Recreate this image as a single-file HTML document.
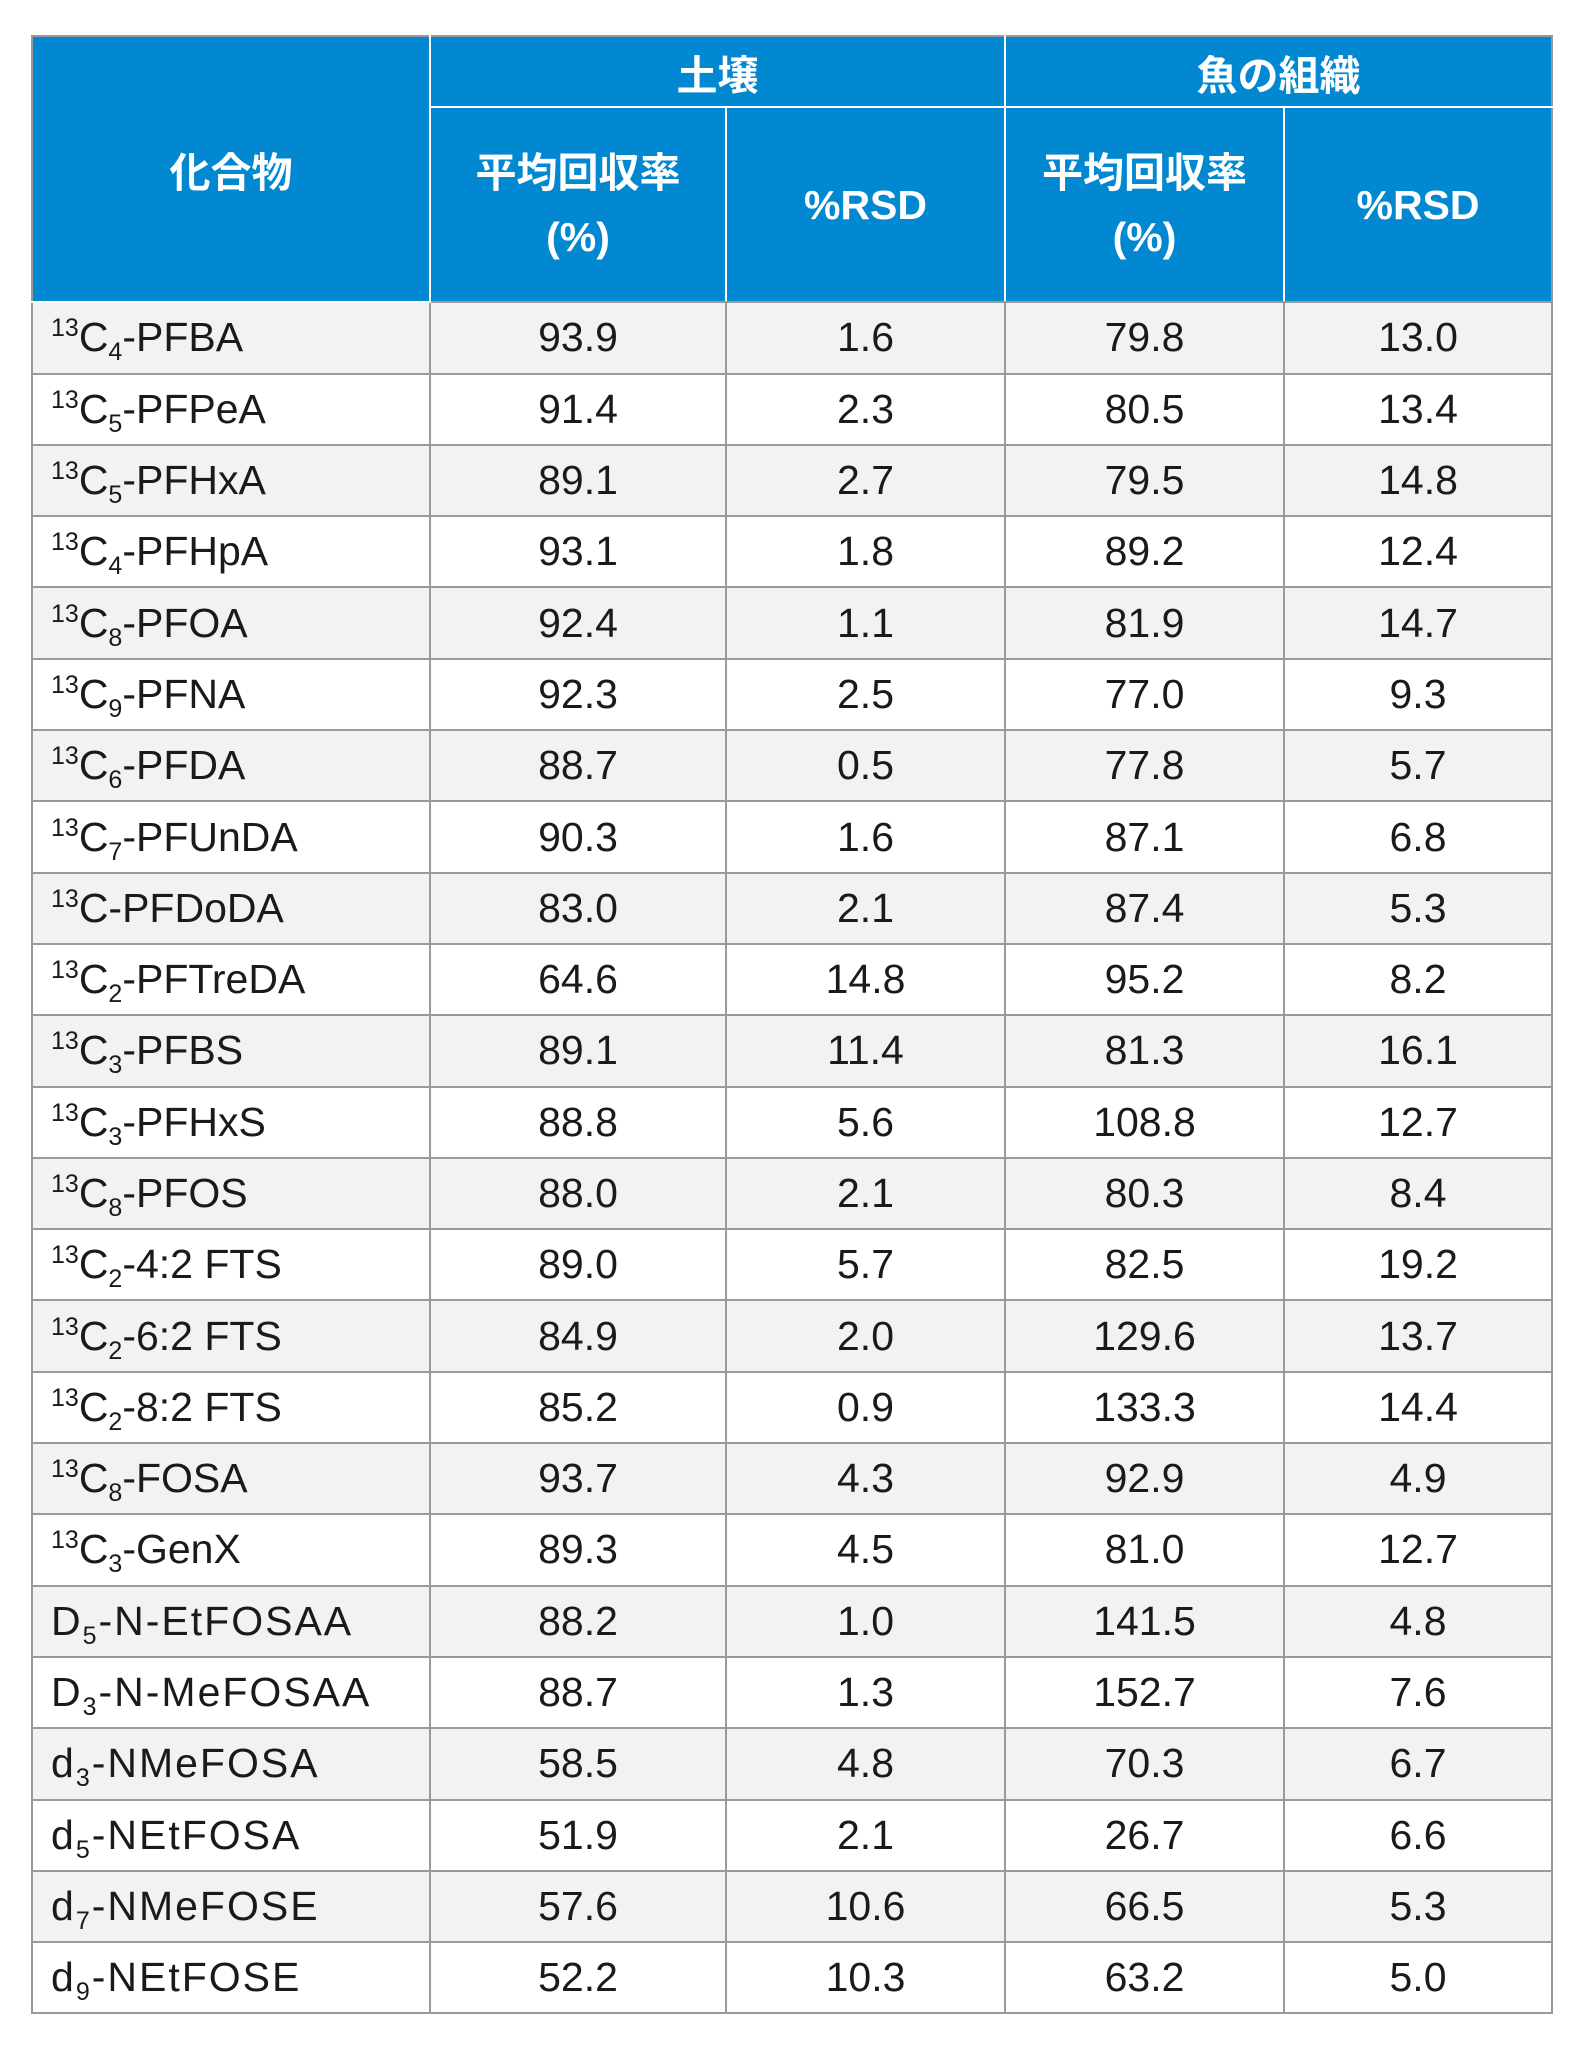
<!DOCTYPE html>
<html><head><meta charset="utf-8">
<style>
html,body{margin:0;padding:0;background:#fff;width:1580px;height:2048px;overflow:hidden}
table{position:absolute;left:31px;top:35px;border-collapse:collapse;table-layout:fixed;width:1520px;font-family:"Liberation Sans","Noto Sans CJK JP",sans-serif}
td,th{border:2px solid #9a9a9a;padding:0;text-align:center;color:#1a1a1a;font-size:41px;height:69.3px;white-space:nowrap;overflow:hidden}
th{background:#0288d1;color:#fff;font-weight:bold;border-color:#fff;font-size:41px}
thead tr:first-child th{border-top-color:#9a9a9a}
thead th.c0{border-left-color:#9a9a9a}
thead th.last{border-right-color:#9a9a9a}
thead tr:last-child th{border-bottom-color:#9a9a9a;height:193px;line-height:64px}
td.n{text-align:left;padding-left:18px}
tbody tr:nth-child(odd) td{background:#f1f2f4}
sup,sub{font-size:25px;line-height:0;position:relative;vertical-align:baseline}
sup{top:-15px}
sub{top:9px}
.ls{letter-spacing:2px}
</style></head><body>
<table>
<colgroup><col style="width:398px"><col style="width:296px"><col style="width:279px"><col style="width:279px"><col style="width:268px"></colgroup>
<thead>
<tr>
<th class="c0" rowspan="2">化合物</th>
<th colspan="2">土壌</th>
<th colspan="2" class="last">魚の組織</th>
</tr>
<tr>
<th>平均回収率<br>(%)</th>
<th>%RSD</th>
<th>平均回収率<br>(%)</th>
<th class="last">%RSD</th>
</tr>
</thead>
<tbody>
<tr><td class="n"><sup>13</sup>C<sub>4</sub>-PFBA</td><td>93.9</td><td>1.6</td><td>79.8</td><td>13.0</td></tr>
<tr><td class="n"><sup>13</sup>C<sub>5</sub>-PFPeA</td><td>91.4</td><td>2.3</td><td>80.5</td><td>13.4</td></tr>
<tr><td class="n"><sup>13</sup>C<sub>5</sub>-PFHxA</td><td>89.1</td><td>2.7</td><td>79.5</td><td>14.8</td></tr>
<tr><td class="n"><sup>13</sup>C<sub>4</sub>-PFHpA</td><td>93.1</td><td>1.8</td><td>89.2</td><td>12.4</td></tr>
<tr><td class="n"><sup>13</sup>C<sub>8</sub>-PFOA</td><td>92.4</td><td>1.1</td><td>81.9</td><td>14.7</td></tr>
<tr><td class="n"><sup>13</sup>C<sub>9</sub>-PFNA</td><td>92.3</td><td>2.5</td><td>77.0</td><td>9.3</td></tr>
<tr><td class="n"><sup>13</sup>C<sub>6</sub>-PFDA</td><td>88.7</td><td>0.5</td><td>77.8</td><td>5.7</td></tr>
<tr><td class="n"><sup>13</sup>C<sub>7</sub>-PFUnDA</td><td>90.3</td><td>1.6</td><td>87.1</td><td>6.8</td></tr>
<tr><td class="n"><sup>13</sup>C-PFDoDA</td><td>83.0</td><td>2.1</td><td>87.4</td><td>5.3</td></tr>
<tr><td class="n"><sup>13</sup>C<sub>2</sub>-PFTreDA</td><td>64.6</td><td>14.8</td><td>95.2</td><td>8.2</td></tr>
<tr><td class="n"><sup>13</sup>C<sub>3</sub>-PFBS</td><td>89.1</td><td>11.4</td><td>81.3</td><td>16.1</td></tr>
<tr><td class="n"><sup>13</sup>C<sub>3</sub>-PFHxS</td><td>88.8</td><td>5.6</td><td>108.8</td><td>12.7</td></tr>
<tr><td class="n"><sup>13</sup>C<sub>8</sub>-PFOS</td><td>88.0</td><td>2.1</td><td>80.3</td><td>8.4</td></tr>
<tr><td class="n"><sup>13</sup>C<sub>2</sub>-4:2 FTS</td><td>89.0</td><td>5.7</td><td>82.5</td><td>19.2</td></tr>
<tr><td class="n"><sup>13</sup>C<sub>2</sub>-6:2 FTS</td><td>84.9</td><td>2.0</td><td>129.6</td><td>13.7</td></tr>
<tr><td class="n"><sup>13</sup>C<sub>2</sub>-8:2 FTS</td><td>85.2</td><td>0.9</td><td>133.3</td><td>14.4</td></tr>
<tr><td class="n"><sup>13</sup>C<sub>8</sub>-FOSA</td><td>93.7</td><td>4.3</td><td>92.9</td><td>4.9</td></tr>
<tr><td class="n"><sup>13</sup>C<sub>3</sub>-GenX</td><td>89.3</td><td>4.5</td><td>81.0</td><td>12.7</td></tr>
<tr><td class="n ls">D<sub>5</sub>-N-EtFOSAA</td><td>88.2</td><td>1.0</td><td>141.5</td><td>4.8</td></tr>
<tr><td class="n ls">D<sub>3</sub>-N-MeFOSAA</td><td>88.7</td><td>1.3</td><td>152.7</td><td>7.6</td></tr>
<tr><td class="n ls">d<sub>3</sub>-NMeFOSA</td><td>58.5</td><td>4.8</td><td>70.3</td><td>6.7</td></tr>
<tr><td class="n ls">d<sub>5</sub>-NEtFOSA</td><td>51.9</td><td>2.1</td><td>26.7</td><td>6.6</td></tr>
<tr><td class="n ls">d<sub>7</sub>-NMeFOSE</td><td>57.6</td><td>10.6</td><td>66.5</td><td>5.3</td></tr>
<tr><td class="n ls">d<sub>9</sub>-NEtFOSE</td><td>52.2</td><td>10.3</td><td>63.2</td><td>5.0</td></tr>
</tbody>
</table>
</body></html>
